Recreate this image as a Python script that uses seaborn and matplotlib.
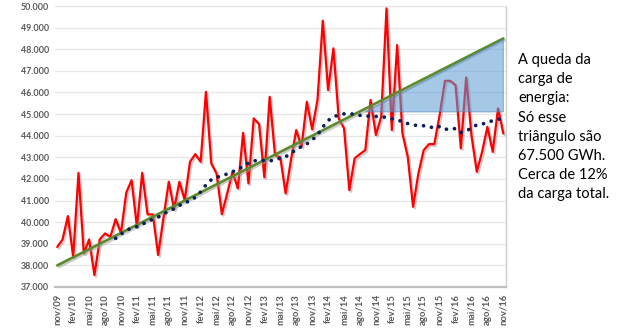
import matplotlib
matplotlib.use("Agg")
import matplotlib.pyplot as plt
import matplotlib.patheffects as pe
from matplotlib.ticker import FuncFormatter, MultipleLocator
import seaborn as sns
import pandas as pd
import numpy as np

# ---------------- data ----------------
month_names = ["jan", "fev", "mar", "abr", "mai", "jun", "jul", "ago", "set", "out", "nov", "dez"]
start_year, start_month = 2009, 11   # nov/09
n_months = 85                        # nov/09 .. nov/16

carga = [38850, 39200, 40280, 38400, 42280, 38550, 39200, 37550, 39200, 39480,
         39320, 40140, 39500, 41370, 41940, 39780, 42280, 40360, 40360, 38480,
         40200, 41870, 40590, 41870, 41020, 42790, 43150, 42790, 46030, 42720,
         42250, 40370, 41330, 42330, 41560, 44130, 41790, 44800, 44540, 42070,
         45800, 43100, 43000, 41330, 42870, 44260, 43490, 45570, 44290, 45650,
         49320, 46110, 48040, 44800, 44340, 41480, 42950, 43150, 43330, 45650,
         44030, 44880, 49890, 44260, 48190, 44100, 43020, 40710, 42250, 43330,
         43610, 43610, 44950, 46540, 46540, 46340, 43410, 46700, 44000, 42330,
         43250, 44410, 43250, 45260, 44100]

# 12-month moving average (starts out/10)
media_movel = [39250, 39450, 39620, 39720, 39790, 39900, 40030, 40130, 40230, 40380,
               40500, 40620, 40770, 40900, 40980, 41150, 41400, 41720, 41960, 42070,
               42150, 42230, 42330, 42450, 42570, 42740, 42830, 42870, 42850, 42830,
               42890, 42960, 43020, 43190, 43360, 43500, 43620, 43800, 44030, 44400,
               44700, 44880, 44950, 45010, 45020, 44990, 44940, 44910, 44900, 44890,
               44870, 44850, 44780, 44720, 44660, 44560, 44500, 44460, 44460, 44430,
               44340, 44430, 44300, 44300, 44330, 44150, 44200, 44370, 44500, 44540,
               44600, 44700, 44760, 44800]
media_inicio = "out/10"

# linear trend endpoints
tendencia_meses = ["nov/09", "nov/16"]
tendencia_valores = [38000, 48500]

# shaded triangle
triangulo_meses = ["set/14", "nov/16", "nov/16"]
triangulo_valores = [45100, 48450, 45100]

texto = ("A queda da\ncarga de\nenergia:\nSó esse\ntriângulo são\n"
         "67.500 GWh.\nCerca de 12%\nda carga total.")

# ---------------- build ----------------
meses = []
for k in range(n_months):
    m = (start_month - 1 + k) % 12
    y = start_year + (start_month - 1 + k) // 12
    meses.append(f"{month_names[m]}/{y % 100:02d}")
pos = {m: i for i, m in enumerate(meses)}

df = pd.DataFrame({"mes": meses, "x": range(n_months), "carga": carga})
i0 = pos[media_inicio]
df_mm = pd.DataFrame({"x": list(range(i0, i0 + len(media_movel))), "mm": media_movel})
df_tr = pd.DataFrame({"x": [pos[m] for m in tendencia_meses], "t": tendencia_valores})

sns.set_style("white")
plt.rcParams["font.family"] = ["Lato", "DejaVu Sans"]

fig = plt.figure(figsize=(6.22, 3.31), dpi=100)
ax = fig.add_axes([54.6 / 622, 1 - 287 / 331, (506 - 54.6) / 622, (287 - 6) / 331])

shadow = [pe.SimpleLineShadow(offset=(1.2, -1.2), shadow_color="#9a9a9a", alpha=0.5), pe.Normal()]

sns.lineplot(data=df, x="x", y="carga", ax=ax, color="#ff0000", lw=1.6, zorder=3)
ax.lines[-1].set_path_effects(shadow)

sns.lineplot(data=df_tr, x="x", y="t", ax=ax, color="#5b8a2c", lw=1.9, zorder=4)
ax.lines[-1].set_path_effects(shadow)

sns.lineplot(data=df_mm, x="x", y="mm", ax=ax, color="#0b1f5c", lw=2.7, zorder=5)
ln = ax.lines[-1]
ln.set_linestyle((0, (0.01, 2.15)))
ln.set_dash_capstyle("round")

tx = [pos[m] for m in triangulo_meses]
ax.fill(tx, triangulo_valores, facecolor="#5b9bd5", alpha=0.55, edgecolor="#4a7fb5",
        lw=0.8, zorder=6)

ax.set_xlim(-0.5, n_months - 0.5)
ax.set_ylim(37000, 50000)
ax.yaxis.set_major_locator(MultipleLocator(1000))
ax.yaxis.set_major_formatter(FuncFormatter(lambda v, p: f"{int(v):,}".replace(",", ".")))
ticks = list(range(0, n_months, 3))
ax.set_xticks(ticks)
ax.set_xticklabels([meses[i] for i in ticks], rotation=90)
ax.tick_params(axis="x", labelsize=6.8, colors="#595959", length=0, pad=5)
ax.tick_params(axis="y", labelsize=6.4, colors="#595959", length=0, pad=4)
for lab in ax.get_yticklabels() + ax.get_xticklabels():
    lab.set_fontweight("bold")
ax.set_xlabel("")
ax.set_ylabel("")
ax.grid(axis="y", color="#e6e6e6", lw=0.9)
ax.grid(axis="x", visible=False)
ax.set_axisbelow(True)
ax.spines["left"].set_visible(False)
ax.spines["top"].set_color("#e6e6e6")
ax.spines["right"].set_color("#cfcfcf")
ax.spines["right"].set_linewidth(1.0)
ax.spines["bottom"].set_color("#bfbfbf")
ax.spines["bottom"].set_linewidth(1.6)

fig.text(518 / 622, 1 - 53 / 331, texto, ha="left", va="top", fontsize=10.5,
         color="#000000", linespacing=1.47)

fig.savefig("out.png", dpi=100, facecolor="white")
